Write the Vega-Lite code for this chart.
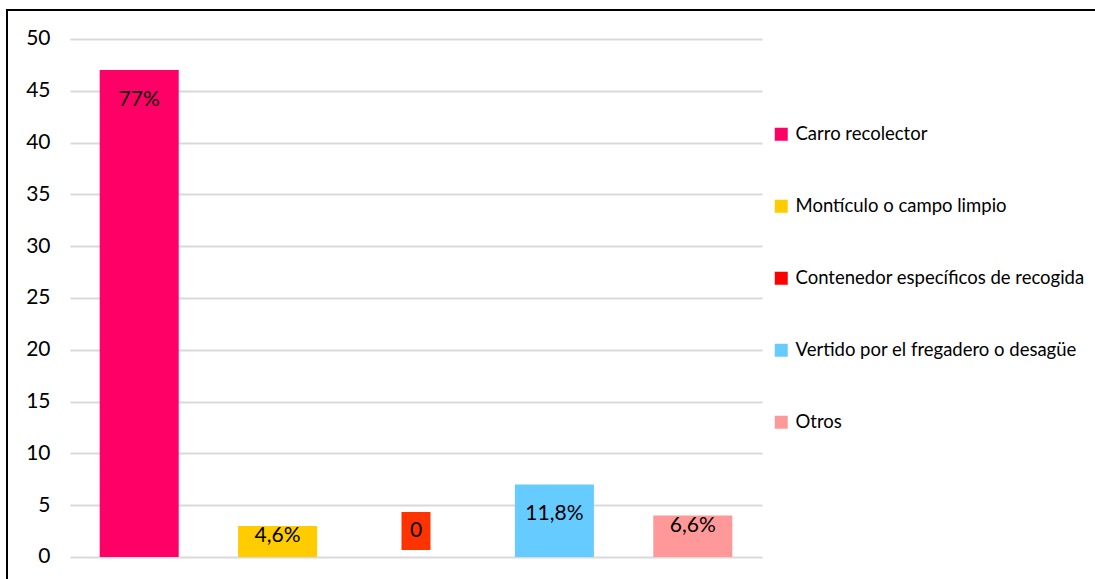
{
  "$schema": "https://vega.github.io/schema/vega-lite/v6.json",
  "width": 1094,
  "height": 575,
  "autosize": {"type": "none"},
  "padding": {"left": 7, "top": 10, "right": 0, "bottom": 0},
  "background": "white",
  "config": {
    "view": {"stroke": "black", "strokeWidth": 2},
    "font": "Lato"
  },
  "data": {
    "values": [
      {"destino": "Carro recolector", "cantidad": 47, "etiqueta": "77%"},
      {"destino": "Montículo o campo limpio", "cantidad": 3, "etiqueta": "4,6%"},
      {"destino": "Contenedor específicos de recogida", "cantidad": 0, "etiqueta": "0"},
      {"destino": "Vertido por el fregadero o desagüe", "cantidad": 7, "etiqueta": "11,8%"},
      {"destino": "Otros", "cantidad": 4, "etiqueta": "6,6%"}
    ]
  },
  "encoding": {
    "x": {
      "field": "destino",
      "type": "nominal",
      "sort": null,
      "axis": null,
      "scale": {
        "domain": ["Carro recolector", "Montículo o campo limpio", "Contenedor específicos de recogida", "Vertido por el fregadero o desagüe", "Otros"],
        "range": [63, 755],
        "paddingInner": 0.429,
        "paddingOuter": 0.2145
      }
    }
  },
  "layer": [
    {
      "mark": {"type": "bar"},
      "encoding": {
        "y": {
          "field": "cantidad",
          "type": "quantitative",
          "scale": {"domain": [-2.703, 52.799], "nice": false, "zero": false},
          "axis": {
            "values": [0, 5, 10, 15, 20, 25, 30, 35, 40, 45, 50],
            "grid": true,
            "gridColor": "#d9d9d9",
            "gridWidth": 2,
            "domain": false,
            "ticks": false,
            "offset": -43,
            "labelPadding": 0,
            "labelFontSize": 21,
            "labelColor": "black",
            "title": null
          }
        },
        "color": {
          "field": "destino",
          "type": "nominal",
          "sort": null,
          "scale": {
            "domain": ["Carro recolector", "Montículo o campo limpio", "Contenedor específicos de recogida", "Vertido por el fregadero o desagüe", "Otros"],
            "range": ["#FF0066", "#FFCC00", "#FF0000", "#66CCFF", "#FF9999"]
          },
          "legend": {
            "orient": "none",
            "legendX": 765,
            "legendY": 115,
            "title": null,
            "symbolType": "square",
            "symbolSize": 169,
            "symbolStrokeWidth": 0,
            "symbolOpacity": 1,
            "labelFontSize": 18.5,
            "labelColor": "black",
            "labelLimit": 500,
            "labelOffset": 5,
            "rowPadding": 53
          }
        }
      }
    },
    {
      "transform": [{"filter": "datum.cantidad == 0"}],
      "mark": {"type": "tick", "color": "#FF3300", "orient": "horizontal", "size": 29, "thickness": 38, "yOffset": -26, "opacity": 1},
      "encoding": {
        "y": {"field": "cantidad", "type": "quantitative"}
      }
    },
    {
      "transform": [{"filter": "datum.cantidad >= 5"}],
      "mark": {"type": "text", "fontSize": 21, "color": "black", "baseline": "middle", "dy": 30},
      "encoding": {
        "y": {"field": "cantidad", "type": "quantitative"},
        "text": {"field": "etiqueta"}
      }
    },
    {
      "transform": [{"filter": "datum.cantidad > 0 && datum.cantidad < 5"}],
      "mark": {"type": "text", "fontSize": 21, "color": "black", "baseline": "middle", "dy": 10},
      "encoding": {
        "y": {"field": "cantidad", "type": "quantitative"},
        "text": {"field": "etiqueta"}
      }
    },
    {
      "transform": [{"filter": "datum.cantidad == 0"}],
      "mark": {"type": "text", "fontSize": 21, "color": "black", "baseline": "middle", "dy": -26},
      "encoding": {
        "y": {"field": "cantidad", "type": "quantitative"},
        "text": {"field": "etiqueta"}
      }
    }
  ]
}
